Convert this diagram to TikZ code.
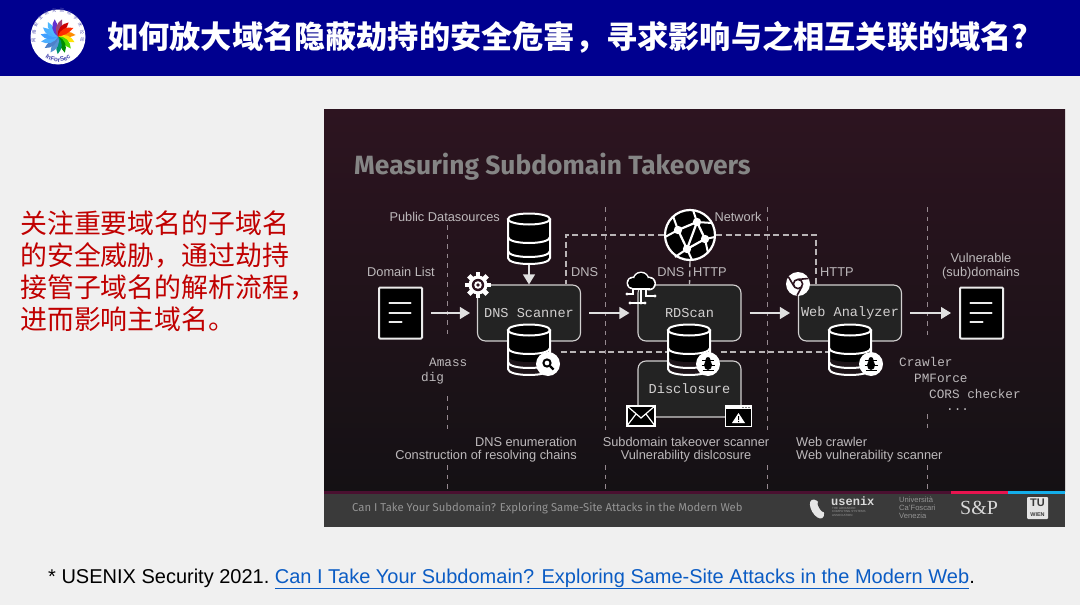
\documentclass[tikz,border=0pt]{standalone}
\usepackage{fontspec}
\setmainfont{Liberation Sans}
\setmonofont{Liberation Mono}
\newfontfamily\cjk{Noto Sans CJK SC}
\newfontfamily\rounded{Fira Sans}
\usetikzlibrary{arrows.meta,positioning,calc,decorations.text}
\definecolor{bandblue}{HTML}{00008F}
\definecolor{pagegrey}{HTML}{F0F0F0}
\definecolor{paneltop}{HTML}{2D1420}
\definecolor{panelmid}{HTML}{27131D}
\definecolor{panelend}{HTML}{141114}
\definecolor{dbband}{HTML}{1E1419}
\definecolor{barmaroon}{HTML}{4A1030}
\definecolor{barred}{HTML}{E8144F}
\definecolor{barblue}{HTML}{14AEEA}
\definecolor{barsolid}{HTML}{3A3A3A}
\definecolor{boxgrey}{HTML}{232323}
\definecolor{linelight}{HTML}{D2D0D0}
\definecolor{labelgrey}{HTML}{BDB9BB}
\definecolor{redtext}{HTML}{C00000}
\definecolor{linkblue}{HTML}{0B5CC4}
\newcommand{\fs}[2]{\fontsize{#1}{#2}\selectfont}

\begin{document}
\begin{tikzpicture}[x=1pt,y=-1pt,
  toolbox/.style={draw=linelight,fill=boxgrey,line width=1.1pt,rounded corners=8pt,
    minimum width=103pt,minimum height=56pt,inner sep=0pt,text=linelight,
    font=\ttfamily\fs{13.6}{15}},
  doc/.style={draw=white!92!black,fill=black,line width=2pt,rounded corners=1pt,
    minimum width=43pt,minimum height=51pt,inner sep=0pt},
  iconspot/.style={minimum width=43pt,minimum height=50pt,inner sep=0pt},
  arr/.style={-{Triangle[length=10pt,width=12pt]},line width=1.1pt,white!88!black},
  link/.style={line width=1.4pt,linelight!85!paneltop,dash pattern=on 6pt off 3.5pt},
  grid/.style={line width=1pt,white!50!paneltop,dash pattern=on 4.5pt off 5pt},
  lab/.style={text=labelgrey,inner sep=0pt,font=\fs{12.8}{13.4}},
  tool/.style={text=labelgrey,inner sep=0pt,anchor=west,font=\ttfamily\fs{12.7}{14}},
  dbstack/.pic={
    \path[fill=#1] (-21,-20) -- (-21,19) .. controls (-21,27) and (21,27) .. (21,19) -- (21,-20) -- cycle;
    \fill[black] (-21,-20) -- (-21,6) .. controls (-21,14) and (21,14) .. (21,6) -- (21,-20) -- cycle;
    \draw[white,line width=2pt] (-21,-20) -- (-21,19) .. controls (-21,27) and (21,27) .. (21,19) -- (21,-20);
    \draw[white,line width=2pt] (-21,-2) .. controls (-21,6) and (21,6) .. (21,-2);
    \draw[white,line width=2pt] (-21,12) .. controls (-21,20) and (21,20) .. (21,12);
    \draw[white,fill=black,line width=2pt] (0,-20) ellipse [x radius=21,y radius=5.5];
  },
  docmarks/.pic={
    \draw[white!92!black,line width=2.2pt,line cap=round] (-11,-10) -- (10,-10) (-11,0) -- (10,0) (-11,9) -- (1,9);
  },
  bugmark/.pic={
    \fill[white] (0,0) circle [radius=12];
    \fill[black] (0,1) ellipse [x radius=4,y radius=5];
    \fill[black] (0,-4.5) circle [radius=2.4];
    \draw[black,line width=1pt] (-6,-4) -- (6,-4) (-6.5,1) -- (6.5,1) (-5.5,6) -- (5.5,6);
  },
  lensmark/.pic={
    \fill[white] (0,0) circle [radius=12];
    \draw[black,line width=2pt] (-1,-1) circle [radius=3.6];
    \draw[black,line width=2.4pt] (2,2) -- (5.5,5.5);
  },
  gearmark/.pic={
    \foreach \a in {0,45,...,315}
      \fill[white,rotate=\a] (-2.4,-13) rectangle (2.4,-7);
    \fill[white] (0,0) circle [radius=9.5];
    \fill[paneltop] (0,0) circle [radius=6.2];
    \fill[white] (0,0) circle [radius=3.8];
    \fill[paneltop] (0,0) circle [radius=1.8];
  },
  chromemark/.pic={
    \fill[white] (0,0) circle [radius=12];
    \draw[paneltop,line width=1.6pt] (0,0) circle [radius=4.6];
    \draw[paneltop,line width=1.6pt] (0,-4.6) -- (10.5,-5.5) (4,2.3) -- (-1,11.5) (-4,2.3) -- (-9.5,-7);
  },
  cloudmark/.pic={
    \fill[white] (-8,-7) circle [radius=6.5] (0,-10) circle [radius=8.5] (8,-6.5) circle [radius=7];
    \fill[black] (-8,-7) circle [radius=5] (0,-10) circle [radius=7] (8,-6.5) circle [radius=5.5];
    \fill[black] (-8,-9) rectangle (8,-2.4);
    \draw[white,line width=1.4pt] (-8.5,-1) -- (8.5,-1);
    \draw[white,line width=1.1pt] (0,-1) -- (0,13) (5,-1) -- (5,6) -- (13,6) (-8,-1) -- (-8,4) -- (-14,4)
      (-11,13) -- (4,13);
    \fill[white] (0,13) circle [radius=1.7] (-14,4) circle [radius=1.7]
      (14,6) circle [radius=1.7] (-11,13) circle [radius=1.7] (4,13) circle [radius=1.7];
  }
]
\useasboundingbox (0,0) rectangle (1080,605);
\fill[pagegrey] (0,0) rectangle (1080,605);
% header band
\fill[bandblue] (0,0) rectangle (1080,76);
\fill[white] (58,37) circle [radius=27.5];
\foreach \a/\c in {0/orange!90!yellow,24/yellow!85!orange,48/green!65!yellow!85!black,72/green!55!black,96/teal!85!green,
  120/cyan!55!blue!70!white,144/cyan!45!blue!75!white,168/blue!45!cyan!70!white,192/blue!50!cyan!75!white,216/blue!45!cyan!70!white,
  240/blue!40!cyan!70!white,264/violet!45!blue!80!white,288/magenta!60!black,312/red!80!black,336/orange!35!red}
  \fill[\c,rotate around={-\a:(58,36.5)}] (58,36.5) .. controls (63,30.5) and (70,30.5) .. (75.5,35) .. controls (70,38) and (63,38) .. cycle;
\path[postaction={decorate,decoration={text along path,text align=fit to path,
  text={|\cjk\fs{4.3}{5}\color{bandblue!70!white}|网络安全研究国际学术论坛}}}]
  (35.5,42) .. controls (31,2) and (85,2) .. (80.5,42);
\path[postaction={decorate,decoration={text along path,text align=center,
  text={|\bfseries\fs{6.5}{7}\color{bandblue!70!white}|InForSec}}}]
  (38,47) .. controls (44,67) and (72,67) .. (78,47);
\node[anchor=west,inner sep=0pt,text=white,font=\cjk\bfseries\fs{31.2}{34}] (headline) at (107,37)
  {如何放大域名隐蔽劫持的安全危害，寻求影响与之相互关联的域名?};
% left text
\node[anchor=north west,inner sep=0pt,align=left,text=redtext,font=\cjk\fs{26.9}{32}] (notes) at (20,211)
  {关注重要域名的子域名\\的安全威胁，通过劫持\\接管子域名的解析流程，\\进而影响主域名。};
% slide
\shade[top color=paneltop,middle color=panelmid,bottom color=panelend] (324,109) rectangle (1065,491);
\fill[barsolid] (324,491) rectangle (1065,527);
\fill[barmaroon] (324,491) rectangle (951,494);
\fill[barred] (951,491) rectangle (1008,494);
\fill[barblue] (1008,491) rectangle (1065,494);
\node[anchor=west,inner sep=0pt,text=white!52!black,font=\rounded\bfseries\fs{26.4}{30}] (slidetitle) at (354,167)
  {Measuring Subdomain Takeovers};
\draw[grid] (447,225) -- (447,338) (447,396) -- (447,430) (447,465) -- (447,490);
\draw[grid] (605,207) -- (605,430) (605,465) -- (605,490);
\draw[grid] (767,207) -- (767,430) (767,465) -- (767,490);
\draw[grid] (927,207) -- (927,340) (927,414) -- (927,430) (927,465) -- (927,490);
% tools
\node[toolbox] (scanner) at (529,313) {DNS Scanner};
\node[toolbox] (disclosure) at (689.5,389) {Disclosure};
\node[toolbox] (rdscan) at (689.5,313) {RDScan};
\node[toolbox] (analyzer) at (850,313) {Web Analyzer};
\node[doc] (domains) at (400.5,313) {};
\node[doc] (vulnerable) at (981.5,313) {};
\pic at (domains) {docmarks};
\pic at (vulnerable) {docmarks};
\node[iconspot] (dbpublic) at (529,239) {};
\node[iconspot] (dbdns) at (529,350) {};
\node[iconspot] (dbrd) at (689,350) {};
\node[iconspot] (dbweb) at (850,350) {};
\node[draw=white,fill=black,line width=2.2pt,circle,minimum size=50pt,inner sep=0pt] (globe) at (690,235) {};
\draw[link] (globe.west) -| ([xshift=37pt]scanner.north);
\draw[link] (globe.east) -| ([xshift=-34pt]analyzer.north);
\draw[link] (globe.south) -- (rdscan.north);
\draw[link] ([shift={(10pt,-2pt)}]dbdns.east) -- ([yshift=-2pt]dbrd.west);
\draw[link] ([shift={(10pt,-2pt)}]dbrd.east) -- ([yshift=-2pt]dbweb.west);
\draw[arr] (dbpublic.south) -- (scanner.north);
\draw[arr] ([xshift=8pt]domains.east) -- ([xshift=-7pt]scanner.west);
\draw[arr] ([xshift=8pt]scanner.east) -- ([xshift=-8pt]rdscan.west);
\draw[arr] ([xshift=8pt]rdscan.east) -- ([xshift=-8pt]analyzer.west);
\draw[arr] ([xshift=8pt]analyzer.east) -- ([xshift=-8pt]vulnerable.west);
% icons
\begin{scope}[shift={(690,235)}]
  \draw[white,line width=2.2pt] (7,-13) -- (-12,-5) -- (-3,14) -- (15,4) -- cycle (7,-13) .. controls (3,-2) .. (-3,14);
  \draw[white,line width=2pt] (7,-13) -- (3,-25) (7,-13) -- (22,-12) (-12,-5) -- (-17,-19) (-12,-5) -- (-25,2)
    (-3,14) -- (-15,22) (-3,14) -- (2,25) (15,4) -- (25,2) (15,4) -- (18,18);
  \fill[white] (7,-13) circle [radius=4.2] (-12,-5) circle [radius=4.2] (15,4) circle [radius=4.2] (-3,14) circle [radius=4.2];
\end{scope}
\pic at (dbpublic) {dbstack=black};
\pic at (dbdns) {dbstack=dbband};
\pic at (dbrd) {dbstack=dbband};
\pic at (dbweb) {dbstack=dbband};
\pic at (548,364) {lensmark};
\pic at (708,364) {bugmark};
\pic at (871,364) {bugmark};
\pic at (478,285) {gearmark};
\pic at (641,290) {cloudmark};
\pic at (798,284) {chromemark};
% mail and alert
\node[draw=white,fill=black,line width=1.2pt,minimum width=28pt,minimum height=20pt,inner sep=0pt] (mail) at (641,416) {};
\draw[white,line width=1.2pt] (mail.north west) -- (641,418) -- (mail.north east)
  (mail.south west) -- (636,414) (mail.south east) -- (646,414);
\node[draw=white,fill=black,line width=1.2pt,minimum width=26pt,minimum height=21pt,inner sep=0pt] (alert) at (738.5,416) {};
\fill[white] (alert.north west) rectangle ([yshift=-4.5pt]alert.north east);
\fill[black] (743,407.5) circle [radius=.7] (746,407.5) circle [radius=.7] (749,407.5) circle [radius=.7];
\fill[white] (738.5,413) -- (745,423) -- (732,423) -- cycle;
\fill[black] (738,416) rectangle (739,420) (738,421) rectangle (739,422);
% labels
\node[lab,anchor=east] (lpublic) at (500,216.5) {Public Datasources};
\node[lab] (lnetwork) at (738,216.5) {Network};
\node[lab] (ldomains) at (401,271.5) {Domain List};
\node[lab,anchor=west] (ldnsa) at (571,272) {DNS};
\node[lab,anchor=east] (ldnsb) at (684.5,272) {DNS};
\node[lab,anchor=west] (lhttpa) at (693,272) {HTTP};
\node[lab,anchor=west] (lhttpb) at (820,272) {HTTP};
\node[lab,align=center,font=\fs{12.8}{14}] (lvuln) at (981,266) {Vulnerable\\(sub)domains};
\node[lab,align=right,anchor=east] (ldnstask) at (577,449.5) {DNS enumeration\\Construction of resolving chains};
\node[lab,align=center] (lrdtask) at (686,449.5) {Subdomain takeover scanner\\Vulnerability dislcosure};
\node[lab,align=left,anchor=west] (lwebtask) at (796,449.5) {Web crawler\\Web vulnerability scanner};
\node[tool] (tamass) at (429,362) {Amass};
\node[tool] (tdig) at (421,378) {dig};
\node[tool] (tcrawler) at (899,362) {Crawler};
\node[tool] (tpm) at (914,378) {PMForce};
\node[tool] (tcors) at (929,394) {CORS checker};
\node[tool] (tmore) at (946,410) {...};
% footer of the slide
\node[anchor=west,inner sep=0pt,xscale=.99,text=white!58!black,font=\rounded\fs{11.4}{13}] (slidefoot) at (352,508)
  {Can I Take Your Subdomain? Exploring Same-Site Attacks in the Modern Web};
\fill[white!90!black,rotate around={30:(817,509)}] (817,509) ellipse [x radius=5.5,y radius=10.5];
\fill[barsolid,rotate around={30:(821,507)}] (821,507) ellipse [x radius=2,y radius=6];
\node[anchor=west,inner sep=0pt,text=white!85!black,font=\ttfamily\bfseries\fs{12}{12}] (usenix) at (831,501) {usenix};
\node[anchor=north west,inner sep=0pt,align=left,text=white!60!black,font=\fs{3}{3.6}] (usenixsub) at (832,507)
  {THE ADVANCED\\COMPUTING SYSTEMS\\ASSOCIATION};
\node[anchor=west,inner sep=0pt,align=left,text=white!58!black,font=\fs{7.6}{8.2}] (foscari) at (899,508)
  {Università\\Ca'Foscari\\Venezia};
\node[anchor=west,inner sep=0pt,text=white!85!black,font=\fontspec{Liberation Serif}\fs{20}{20}] (sp) at (960,508) {S\&P};
\node[fill=white!90!black,rounded corners=1pt,minimum width=21pt,minimum height=22pt,inner sep=0pt,align=center,
  text=barsolid,font=\bfseries\fs{11}{10}] (tuwien) at (1037.5,508) {TU\\{\fs{5.5}{6}WIEN}};
% reference
\node[anchor=base west,inner sep=0pt,font=\fs{20}{22},text=black] (reference) at (48,583)
  {* USENIX Security 2021.\hspace{5.4pt}\textcolor{linkblue}{\underline{Can I Take Your Subdomain? Exploring Same-Site Attacks in the Modern Web}}.};
\end{tikzpicture}
\end{document}
